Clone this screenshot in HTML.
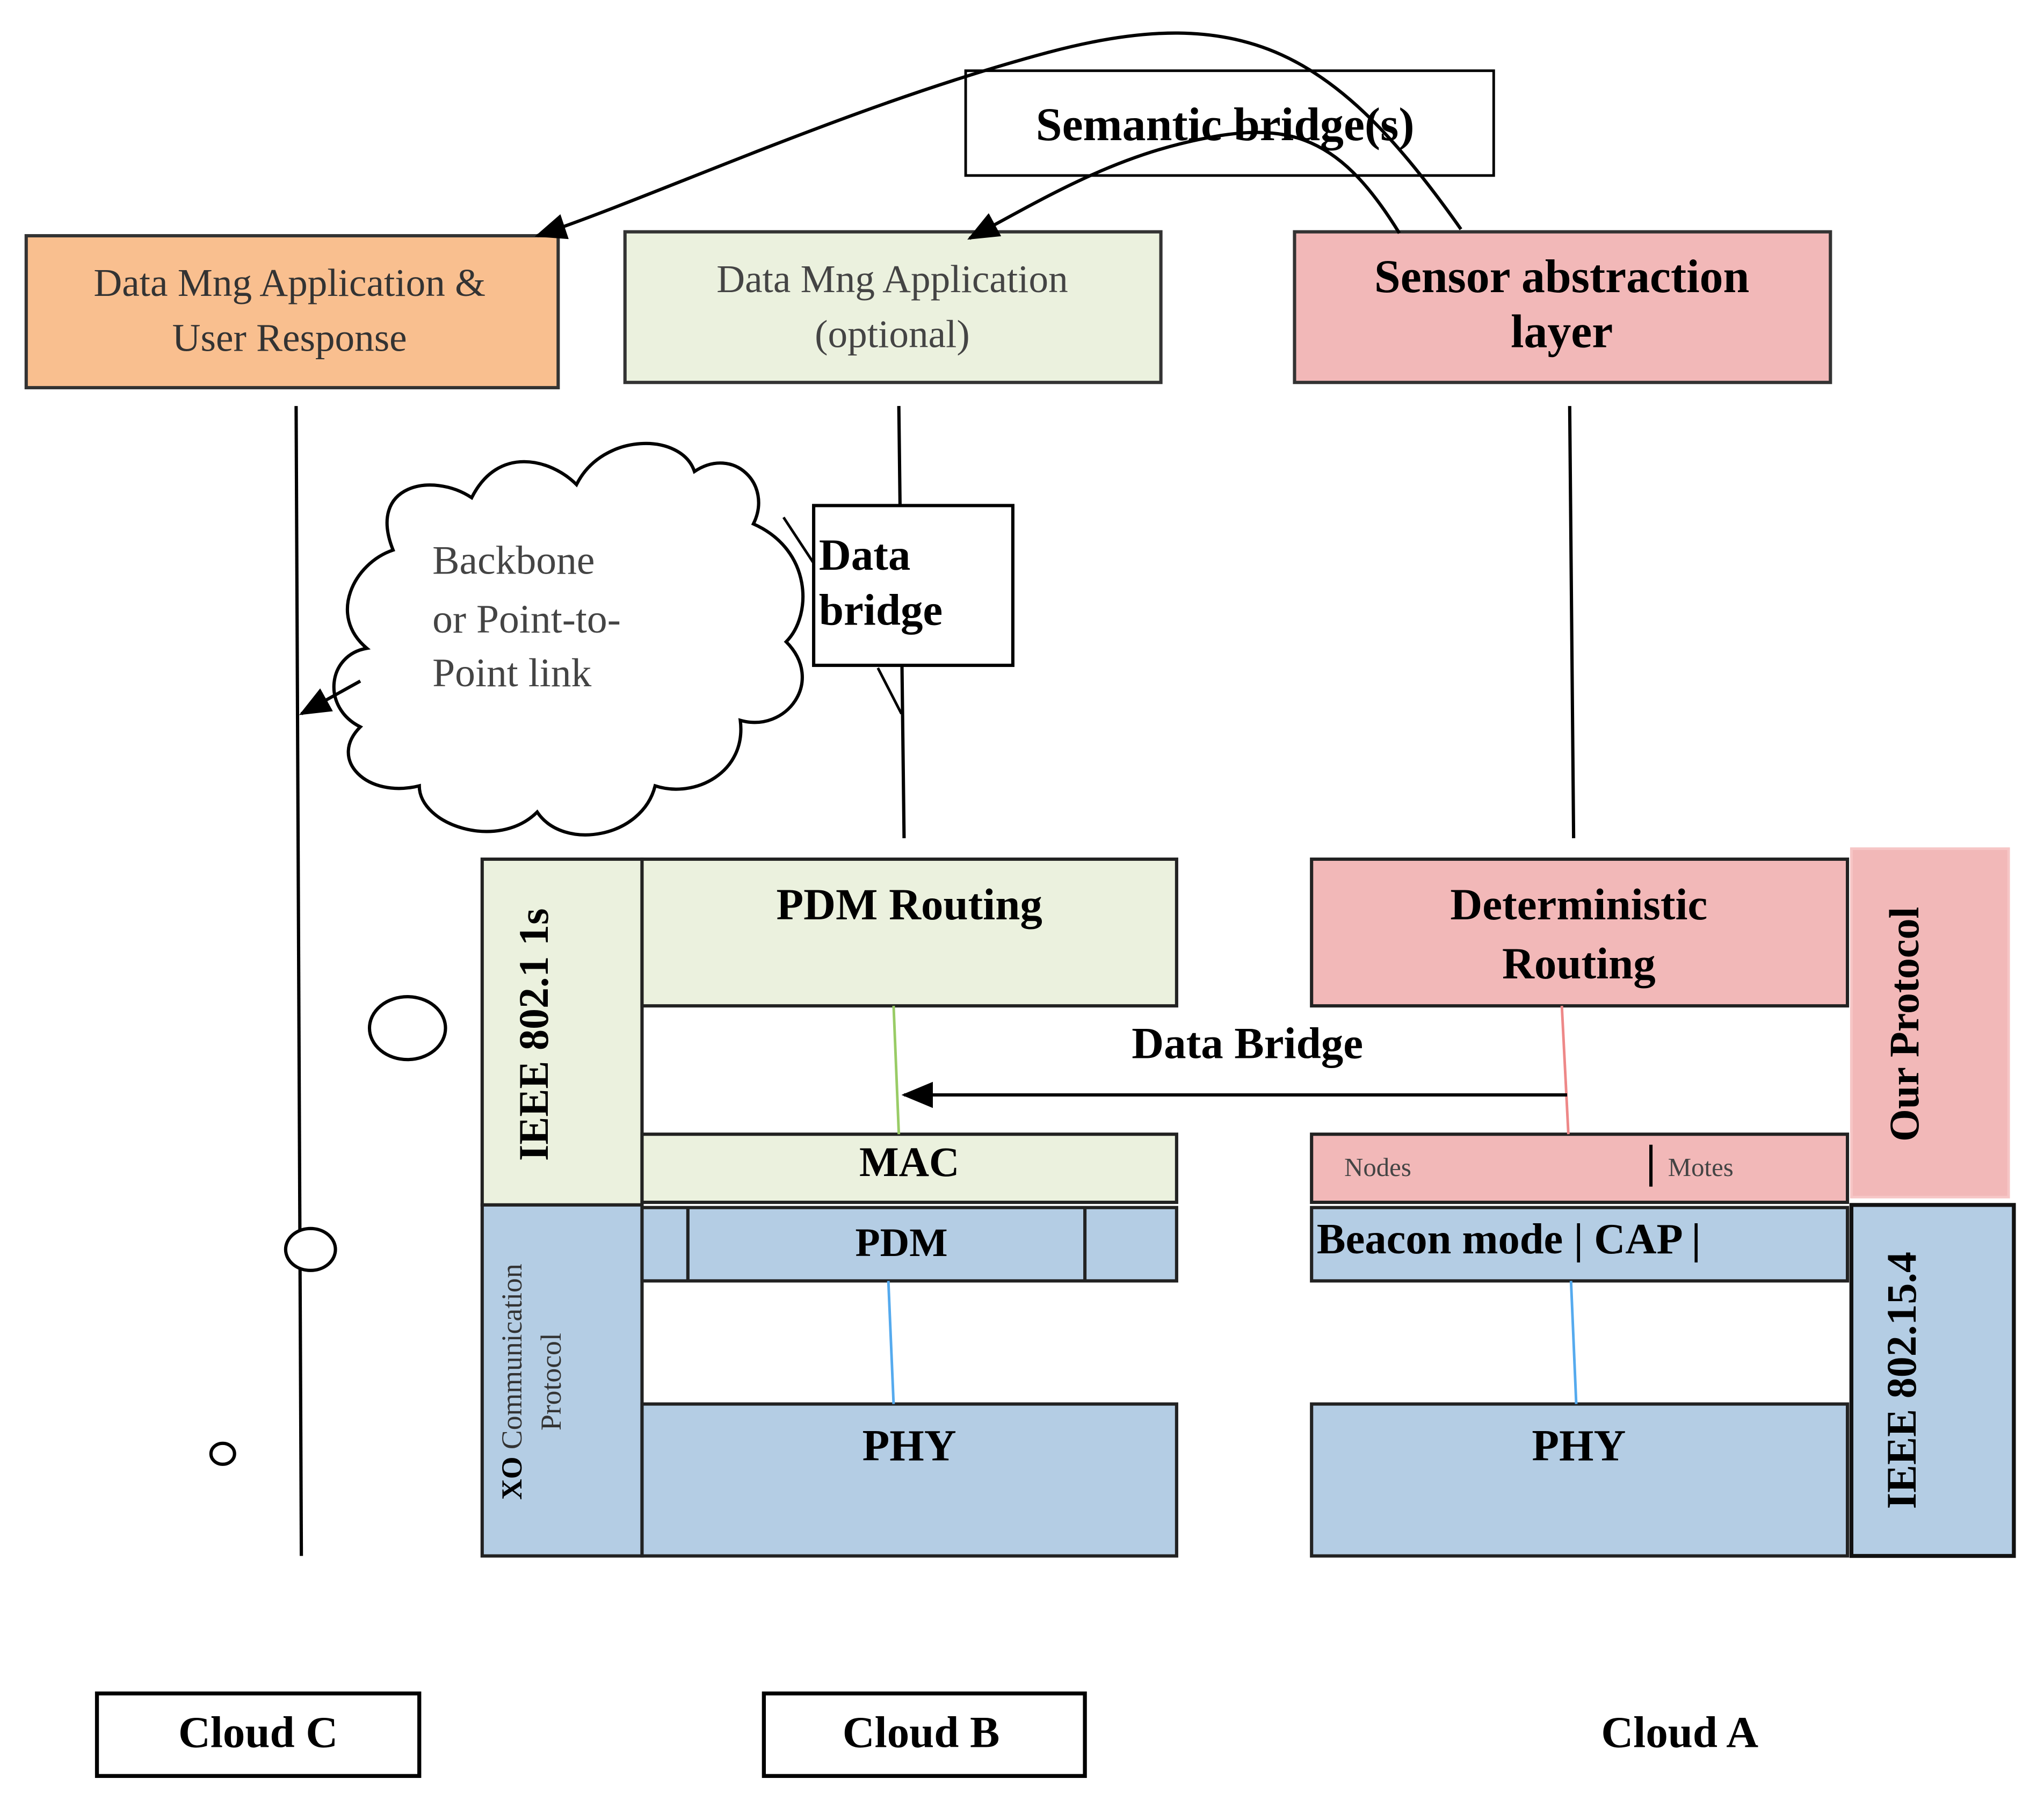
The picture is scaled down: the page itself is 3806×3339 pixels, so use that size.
<!DOCTYPE html>
<html><head><meta charset="utf-8"><style>
html,body{margin:0;padding:0;background:#fff;}
svg{display:block;}
text{font-family:"Liberation Serif",serif;}
</style></head><body>
<svg width="3806" height="3339" viewBox="0 0 1560 1369" preserveAspectRatio="none" xmlns="http://www.w3.org/2000/svg">
<defs>
<marker id="ah" markerWidth="10" markerHeight="10" refX="9" refY="5" orient="auto" markerUnits="userSpaceOnUse"><path d="M0,0 L10,5 L0,10 z" fill="#000"/></marker>
<marker id="ah2" markerWidth="24" markerHeight="20" refX="22" refY="10" orient="auto" markerUnits="userSpaceOnUse"><path d="M0,0 L24,10 L0,20 z" fill="#000"/></marker>
</defs>
<rect width="1560" height="1369" fill="#fff"/>
<!-- top boxes -->
<rect x="737" y="54" width="403" height="80" fill="#fff" stroke="#000" stroke-width="2"/>
<text x="935" y="107" font-size="36" font-weight="bold" text-anchor="middle">Semantic bridge(s)</text>
<rect x="20" y="180" width="406" height="116" fill="#f9bf8f" stroke="#333" stroke-width="2.5"/>
<text x="221" y="226" font-size="30" fill="#333" text-anchor="middle">Data Mng Application &amp;</text>
<text x="221" y="268" font-size="30" fill="#333" text-anchor="middle">User Response</text>
<rect x="477" y="177" width="409" height="115" fill="#ebf1de" stroke="#333" stroke-width="2.5"/>
<text x="681" y="223" font-size="30" fill="#444" text-anchor="middle">Data Mng Application</text>
<text x="681" y="265" font-size="30" fill="#444" text-anchor="middle">(optional)</text>
<rect x="988" y="177" width="409" height="115" fill="#f2b8b8" stroke="#333" stroke-width="2.5"/>
<text x="1192" y="223" font-size="36" font-weight="bold" text-anchor="middle">Sensor abstraction</text>
<text x="1192" y="265" font-size="36" font-weight="bold" text-anchor="middle">layer</text>
<!-- curves -->
<path d="M1115,175 C1020,40 950,0 800,40 C650,80 500,150 410,180" fill="none" stroke="#000" stroke-width="2.5" marker-end="url(#ah2)"/>
<path d="M1068,178 C1020,100 980,90 900,110 C840,125 790,155 740,182" fill="none" stroke="#000" stroke-width="2.5" marker-end="url(#ah2)"/>
<!-- vertical lines -->
<line x1="226" y1="310" x2="230" y2="1188" stroke="#000" stroke-width="2.5"/>
<line x1="686" y1="310" x2="690" y2="640" stroke="#000" stroke-width="2.5"/>
<line x1="1198" y1="310" x2="1201" y2="640" stroke="#000" stroke-width="2.5"/>
<!-- cloud -->
<path d="M300,420 C280,370 330,360 360,380 C380,340 420,350 440,370 C460,330 520,330 530,360 C560,340 590,370 575,400 C620,420 620,470 600,490 C630,520 600,560 565,550 C570,590 530,610 500,600 C490,640 430,650 410,620 C380,650 320,630 320,600 C280,610 250,580 275,555 C245,540 250,500 280,495 C250,470 270,430 300,420 Z" fill="#fff" stroke="#000" stroke-width="2.5"/>
<text x="330" y="438" font-size="31" fill="#444">Backbone</text>
<text x="330" y="483" font-size="31" fill="#444">or Point-to-</text>
<text x="330" y="524" font-size="31" fill="#444">Point link</text>
<line x1="275" y1="520" x2="230" y2="545" stroke="#000" stroke-width="2.5" marker-end="url(#ah2)"/>
<!-- data bridge box -->
<rect x="621" y="386" width="152" height="122" fill="#fff" stroke="#000" stroke-width="2.5"/>
<text x="625" y="435" font-size="34" font-weight="bold">Data</text>
<text x="625" y="477" font-size="34" font-weight="bold">bridge</text>
<path d="M670,510 L688,545" stroke="#000" stroke-width="2" fill="none"/>
<path d="M598,395 L621,430" stroke="#000" stroke-width="2" fill="none"/>
<!-- left stack -->
<rect x="368" y="656" width="122" height="264" fill="#ebf1de" stroke="#222" stroke-width="2.5"/>
<text transform="translate(418,790) rotate(-90)" font-size="32" font-weight="bold" text-anchor="middle">IEEE 802.1 1s</text>
<rect x="490" y="656" width="408" height="112" fill="#ebf1de" stroke="#222" stroke-width="2.5"/>
<text x="694" y="702" font-size="34" font-weight="bold" text-anchor="middle">PDM Routing</text>
<rect x="490" y="866" width="408" height="52" fill="#ebf1de" stroke="#222" stroke-width="2.5"/>
<text x="694" y="898" font-size="32" font-weight="bold" text-anchor="middle">MAC</text>
<rect x="368" y="920" width="122" height="268" fill="#b4cde4" stroke="#222" stroke-width="2.5"/>
<text transform="translate(398,1055) rotate(-90)" font-size="22" fill="#333" text-anchor="middle"><tspan font-weight="bold" fill="#000">XO</tspan> Communication</text>
<text transform="translate(428,1055) rotate(-90)" font-size="22" fill="#333" text-anchor="middle">Protocol</text>
<rect x="490" y="922" width="408" height="56" fill="#b4cde4" stroke="#222" stroke-width="2.5"/>
<line x1="525" y1="922" x2="525" y2="978" stroke="#222" stroke-width="2.5"/>
<line x1="828" y1="922" x2="828" y2="978" stroke="#222" stroke-width="2.5"/>
<text x="688" y="959" font-size="31" font-weight="bold" text-anchor="middle">PDM</text>
<rect x="490" y="1072" width="408" height="116" fill="#b4cde4" stroke="#222" stroke-width="2.5"/>
<text x="694" y="1115" font-size="34" font-weight="bold" text-anchor="middle">PHY</text>
<line x1="682" y1="768" x2="686" y2="866" stroke="#9c6" stroke-width="2"/>
<line x1="678" y1="978" x2="682" y2="1072" stroke="#5ae" stroke-width="2"/>
<!-- right stack -->
<rect x="1413" y="648" width="120" height="266" fill="#f2b8b8" stroke="#f6c6c6" stroke-width="2"/>
<text transform="translate(1464,782) rotate(-90)" font-size="32" font-weight="bold" text-anchor="middle">Our Protocol</text>
<rect x="1001" y="656" width="409" height="112" fill="#f2b8b8" stroke="#222" stroke-width="2.5"/>
<text x="1205" y="702" font-size="34" font-weight="bold" text-anchor="middle">Deterministic</text>
<text x="1205" y="747" font-size="34" font-weight="bold" text-anchor="middle">Routing</text>
<rect x="1001" y="866" width="409" height="52" fill="#f2b8b8" stroke="#222" stroke-width="2.5"/>
<text x="1026" y="898" font-size="20" fill="#444">Nodes</text>
<line x1="1260" y1="874" x2="1260" y2="906" stroke="#000" stroke-width="2.5"/>
<text x="1273" y="898" font-size="20" fill="#444">Motes</text>
<rect x="1001" y="922" width="409" height="56" fill="#b4cde4" stroke="#222" stroke-width="2.5"/>
<text x="1005" y="957" font-size="33" font-weight="bold">Beacon mode | CAP |</text>
<rect x="1001" y="1072" width="409" height="116" fill="#b4cde4" stroke="#222" stroke-width="2.5"/>
<text x="1205" y="1115" font-size="34" font-weight="bold" text-anchor="middle">PHY</text>
<rect x="1413" y="920" width="124" height="268" fill="#b4cde4" stroke="#111" stroke-width="3"/>
<text transform="translate(1462,1054) rotate(-90)" font-size="32" font-weight="bold" text-anchor="middle">IEEE 802.15.4</text>
<line x1="1192" y1="768" x2="1197" y2="866" stroke="#e88" stroke-width="2"/>
<line x1="1199" y1="978" x2="1203" y2="1072" stroke="#5ae" stroke-width="2"/>
<text x="952" y="808" font-size="34" font-weight="bold" text-anchor="middle">Data Bridge</text>
<line x1="1196" y1="836" x2="690" y2="836" stroke="#000" stroke-width="2.5" marker-end="url(#ah2)"/>
<!-- circles -->
<ellipse cx="311" cy="785" rx="29" ry="24" fill="#fff" stroke="#000" stroke-width="2.5"/>
<ellipse cx="237" cy="954" rx="19" ry="16" fill="#fff" stroke="#000" stroke-width="2.5"/>
<ellipse cx="170" cy="1110" rx="9" ry="8" fill="#fff" stroke="#000" stroke-width="2.5"/>
<!-- clouds -->
<rect x="74" y="1293" width="246" height="63" fill="#fff" stroke="#000" stroke-width="3"/>
<text x="197" y="1334" font-size="34" font-weight="bold" text-anchor="middle">Cloud C</text>
<rect x="583" y="1293" width="245" height="63" fill="#fff" stroke="#000" stroke-width="3"/>
<text x="703" y="1334" font-size="34" font-weight="bold" text-anchor="middle">Cloud B</text>
<text x="1282" y="1334" font-size="34" font-weight="bold" text-anchor="middle">Cloud A</text>
</svg>
</body></html>
